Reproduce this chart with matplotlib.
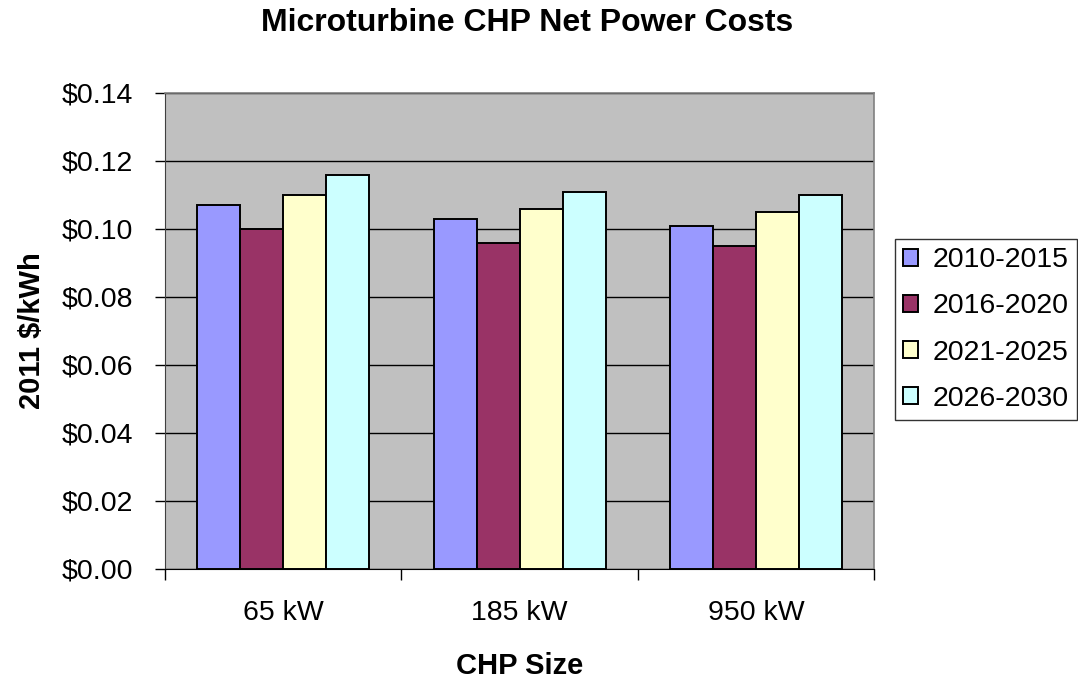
import numpy as np
import matplotlib
matplotlib.use("Agg")
import matplotlib.pyplot as plt
from matplotlib.ticker import FuncFormatter

plt.rcParams['font.family'] = ['Liberation Sans', 'DejaVu Sans']

sizes = ['65 kW', '185 kW', '950 kW']
periods = ['2010-2015', '2016-2020', '2021-2025', '2026-2030']
costs_2010_2015 = [0.107, 0.103, 0.101]
costs_2016_2020 = [0.100, 0.096, 0.095]
costs_2021_2025 = [0.110, 0.106, 0.105]
costs_2026_2030 = [0.116, 0.111, 0.110]
colors = ['#9999FF', '#993366', '#FFFFCC', '#CCFFFF']

series = [costs_2010_2015, costs_2016_2020, costs_2021_2025, costs_2026_2030]

fig = plt.figure(figsize=(10.78, 6.81), dpi=100)
ax = fig.add_axes([0.153, 0.1645, 0.658, 0.699])
ax.set_facecolor('#C0C0C0')

x = np.arange(len(sizes))
w = 1 / 5.5
for i, (vals, lab, c) in enumerate(zip(series, periods, colors)):
    ax.bar(x + (i - 1.5) * w, vals, width=w, color=c, edgecolor='black',
           linewidth=1.4, label=lab, zorder=3)

ax.set_xlim(-0.5, 2.5)
ax.set_ylim(0, 0.14)
ax.set_yticks(np.arange(0, 0.141, 0.02))
ax.yaxis.set_major_formatter(FuncFormatter(lambda v, p: f'${v:.2f}'))
ax.grid(axis='y', color='black', linewidth=1, zorder=1)
ax.set_xticks(x)
ax.set_xticklabels(sizes)
ax.set_xticks([-0.5, 0.5, 1.5, 2.5], minor=True)
ax.tick_params(axis='x', which='major', length=0, pad=22, labelsize=20.5)
ax.tick_params(axis='x', which='minor', length=8, width=1, direction='out')
ax.tick_params(axis='y', length=7, width=1, labelsize=20.5, pad=16)

for s in ['top', 'right']:
    ax.spines[s].set_color('#808080')
    ax.spines[s].set_linewidth(1.2)
ax.spines['left'].set_color('#404040')
ax.spines['bottom'].set_color('black')

ax.set_xlabel('CHP Size', fontsize=21, fontweight='bold', labelpad=19)
ax.set_ylabel('2011 $/kWh', fontsize=21, fontweight='bold', labelpad=11)
fig.text(0.489, 0.966, 'Microturbine CHP Net Power Costs', ha='center', va='center',
         fontsize=23, fontweight='bold')

leg = ax.legend(loc='center left', bbox_to_anchor=(1.029, 0.503), fontsize=20.5,
                frameon=True, fancybox=False, edgecolor='black', borderpad=0.28,
                handlelength=0.55, handleheight=0.55, handletextpad=0.5,
                labelspacing=0.71, borderaxespad=0)
leg.get_frame().set_linewidth(1)

fig.savefig('out.png', dpi=100)
